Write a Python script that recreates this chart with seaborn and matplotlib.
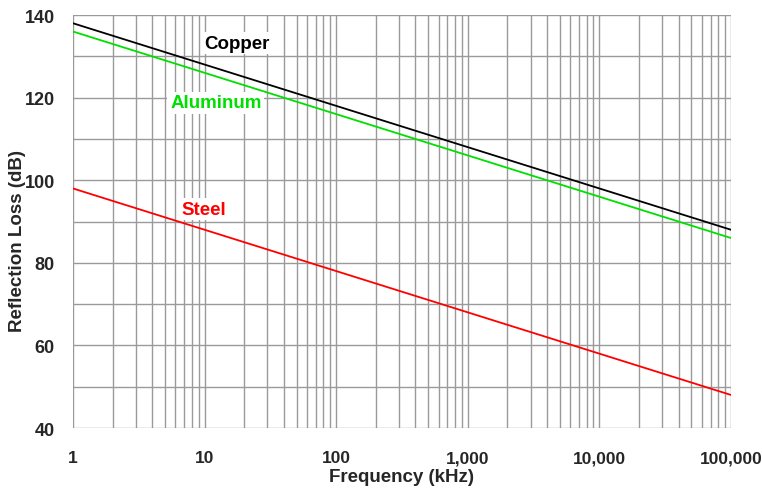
import matplotlib
matplotlib.use("Agg")
import matplotlib.pyplot as plt
import matplotlib.ticker as mticker
import seaborn as sns
import pandas as pd

freq_khz = [1, 10, 100, 1000, 10000, 100000]
copper = [138, 128, 118, 108, 98, 88]
aluminum = [136, 126, 116, 106, 96, 86]
steel = [98, 88, 78, 68, 58, 48]
x_ticks = [1, 10, 100, 1000, 10000, 100000]
x_tick_labels = ["1", "10", "100", "1,000", "10,000", "100,000"]
y_ticks = [40, 60, 80, 100, 120, 140]

df = pd.DataFrame({
    "freq": freq_khz * 3,
    "loss": copper + aluminum + steel,
    "metal": ["Copper"] * 6 + ["Aluminum"] * 6 + ["Steel"] * 6,
})
palette = {"Copper": "#000000", "Aluminum": "#00e000", "Steel": "#ff0000"}

sns.set_style("white")
plt.rcParams["font.family"] = ["Liberation Sans", "DejaVu Sans"]

fig = plt.figure(figsize=(7.62, 4.89), dpi=100)
ax = fig.add_axes([73 / 762, 1 - 429 / 489, (731 - 73) / 762, (429 - 16) / 489])

sns.lineplot(data=df, x="freq", y="loss", hue="metal", palette=palette,
             legend=False, ax=ax, linewidth=1.3, zorder=3)
ax.set_xscale("log")
ax.set_xlim(1, 100000)
ax.set_ylim(40, 140)

ax.xaxis.set_major_locator(mticker.FixedLocator(x_ticks))
ax.xaxis.set_major_formatter(mticker.FixedFormatter(x_tick_labels))
ax.xaxis.set_minor_locator(mticker.LogLocator(base=10, subs=range(2, 10), numticks=20))
ax.xaxis.set_minor_formatter(mticker.NullFormatter())
ax.yaxis.set_major_locator(mticker.FixedLocator(y_ticks))
ax.yaxis.set_minor_locator(mticker.MultipleLocator(10))

ax.grid(True, which="both", axis="both", color="#9a9a9a", linewidth=1.0, zorder=0)
for s in ax.spines.values():
    s.set_visible(False)

ax.tick_params(axis="both", which="both", length=5, color="#9a9a9a", width=1.0,
               direction="out")
ax.tick_params(axis="x", which="both", pad=11, labelsize=12.5)
ax.tick_params(axis="y", which="both", pad=8, labelsize=13)
for lab in ax.get_xticklabels() + ax.get_yticklabels():
    lab.set_fontweight("bold")

ax.set_xlabel("Frequency (kHz)", fontsize=13.5, fontweight="bold")
ax.xaxis.set_label_coords(0.5, -0.096)
ax.set_ylabel("Reflection Loss (dB)", fontsize=13.5, fontweight="bold")
ax.yaxis.set_label_coords(-0.071, 0.455)

bbox = dict(facecolor="white", edgecolor="none", pad=2)
ax.text(17.6, 133.2, "Copper", color="#000000", fontsize=13.5, fontweight="bold",
        ha="center", va="center", bbox=bbox, zorder=4)
ax.text(12.2, 118.7, "Aluminum", color="#00e000", fontsize=13.5, fontweight="bold",
        ha="center", va="center", bbox=bbox, zorder=4)
ax.text(9.9, 93.0, "Steel", color="#ff0000", fontsize=13.5, fontweight="bold",
        ha="center", va="center", bbox=bbox, zorder=4)

fig.savefig("out.png", dpi=100)
